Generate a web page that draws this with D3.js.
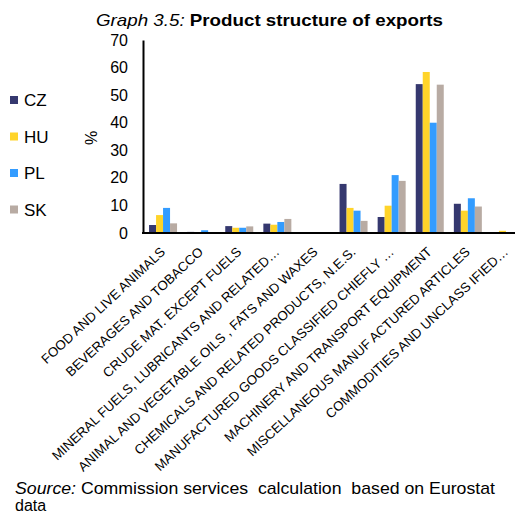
<!DOCTYPE html>
<html><head><meta charset="utf-8">
<script src="https://cdn.jsdelivr.net/npm/d3@7"></script>
<style>body{margin:0;background:#fff}svg{display:block;font-family:Arial,"Liberation Sans",sans-serif}</style>
</head><body><svg id="c" width="515" height="514"></svg>
<script>
const categories = [
  "FOOD AND LIVE ANIMALS",
  "BEVERAGES AND TOBACCO",
  "CRUDE MAT. EXCEPT FUELS",
  "MINERAL FUELS, LUBRICANTS AND RELATED…",
  "ANIMAL AND VEGETABLE OILS , FATS AND WAXES",
  "CHEMICALS AND RELATED PRODUCTS, N.E.S.",
  "MANUFACTURED GOODS CLASSIFIED CHIEFLY …",
  "MACHINERY AND TRANSPORT EQUIPMENT",
  "MISCELLANEOUS MANUF ACTURED ARTICLES",
  "COMMODITIES AND  UNCLASS IFIED…"
];
const seriesNames = ["CZ", "HU", "PL", "SK"];
const CZ = [2.9, 0.4, 2.5, 3.4, 0.0, 17.8, 5.8, 54.0, 10.6, 0.3];
const HU = [6.5, 0.0, 1.9, 3.0, 0.0, 9.1, 9.9, 58.4, 8.1, 0.8];
const PL = [9.1, 1.0, 1.9, 4.0, 0.0, 8.1, 21.0, 40.0, 12.6, 0.2];
const SK = [3.5, 0.0, 2.4, 5.1, 0.0, 4.4, 18.9, 53.8, 9.6, 0.0];
const yTicks = [0, 10, 20, 30, 40, 50, 60, 70];
const colors = ["#35386f", "#ffd42a", "#339cff", "#b8aba3"];

const values = {CZ, HU, PL, SK};
const svg = d3.select("#c");

const x = d3.scaleBand().domain(categories).range([144, 525]);
const groupW = 28;
const x1 = d3.scaleBand().domain(seriesNames).range([0, groupW]);
const y = d3.scaleLinear().domain([0, 70]).range([233, 40]);
const color = d3.scaleOrdinal().domain(seriesNames).range(colors);

// title
const t = svg.append("text").attr("x", 96).attr("y", 26).attr("font-size", 17)
  .attr("textLength", 347).attr("lengthAdjust", "spacingAndGlyphs");
t.append("tspan").attr("font-style", "italic").text("Graph 3.5: ");
t.append("tspan").attr("font-weight", "bold").text("Product structure of exports");

// bars
seriesNames.forEach(s => {
  svg.append("g").selectAll("rect").data(values[s].map((v, i) => ({c: categories[i], v})))
    .join("rect")
    .attr("x", d => x(d.c) + (x.bandwidth() - groupW) / 2 + x1(s))
    .attr("width", x1.bandwidth())
    .attr("y", d => y(d.v))
    .attr("height", d => y(0) - y(d.v))
    .attr("fill", color(s));
});

// y axis
const yAxis = d3.axisLeft(y).tickValues(yTicks).tickSize(0).tickPadding(15);
const yg = svg.append("g").attr("transform", "translate(143,0)").call(yAxis);
yg.select(".domain").attr("stroke", "#000").attr("stroke-width", 2);
yg.selectAll("text").attr("font-size", 16).attr("font-family", "Arial, 'Liberation Sans', sans-serif").attr("fill", "#000");

// baseline
const xAxis = d3.axisBottom(x).tickSize(0).tickFormat("");
const xg = svg.append("g").attr("transform", "translate(0,233)").call(xAxis);
xg.select(".domain").remove();
svg.append("line").attr("x1", 142).attr("x2", 525).attr("y1", y(0)).attr("y2", y(0))
  .attr("stroke", "#000").attr("stroke-width", 2);

// category labels
svg.append("g").selectAll("text").data(categories).join("text")
  .attr("transform", d => `translate(${x(d) + x.bandwidth() / 2 + 3},253) rotate(-43)`)
  .attr("text-anchor", "end")
  .attr("font-size", 13.3)
  .attr("fill", "#000")
  .text(d => d);

// y axis title
svg.append("text").attr("transform", "translate(97,138) rotate(-90)")
  .attr("text-anchor", "middle").attr("font-size", 16).text("%");

// legend
const lg = svg.append("g").selectAll("g").data(seriesNames).join("g")
  .attr("transform", (d, i) => `translate(10,${100 + i * 36.5})`);
lg.append("rect").attr("x", 0).attr("y", -4).attr("width", 8).attr("height", 8).attr("fill", d => color(d));
lg.append("text").attr("x", 14).attr("y", 6).attr("font-size", 17).text(d => d);

// source
const src = svg.append("text").attr("x", 15).attr("y", 494).attr("font-size", 17)
  .attr("textLength", 480).attr("lengthAdjust", "spacingAndGlyphs");
src.append("tspan").attr("font-style", "italic").text("Source:");
src.append("tspan").text(" Commission services  calculation  based on Eurostat").attr("xml:space", "preserve");
svg.append("text").attr("x", 15).attr("y", 511).attr("font-size", 16).text("data");
</script></body></html>
